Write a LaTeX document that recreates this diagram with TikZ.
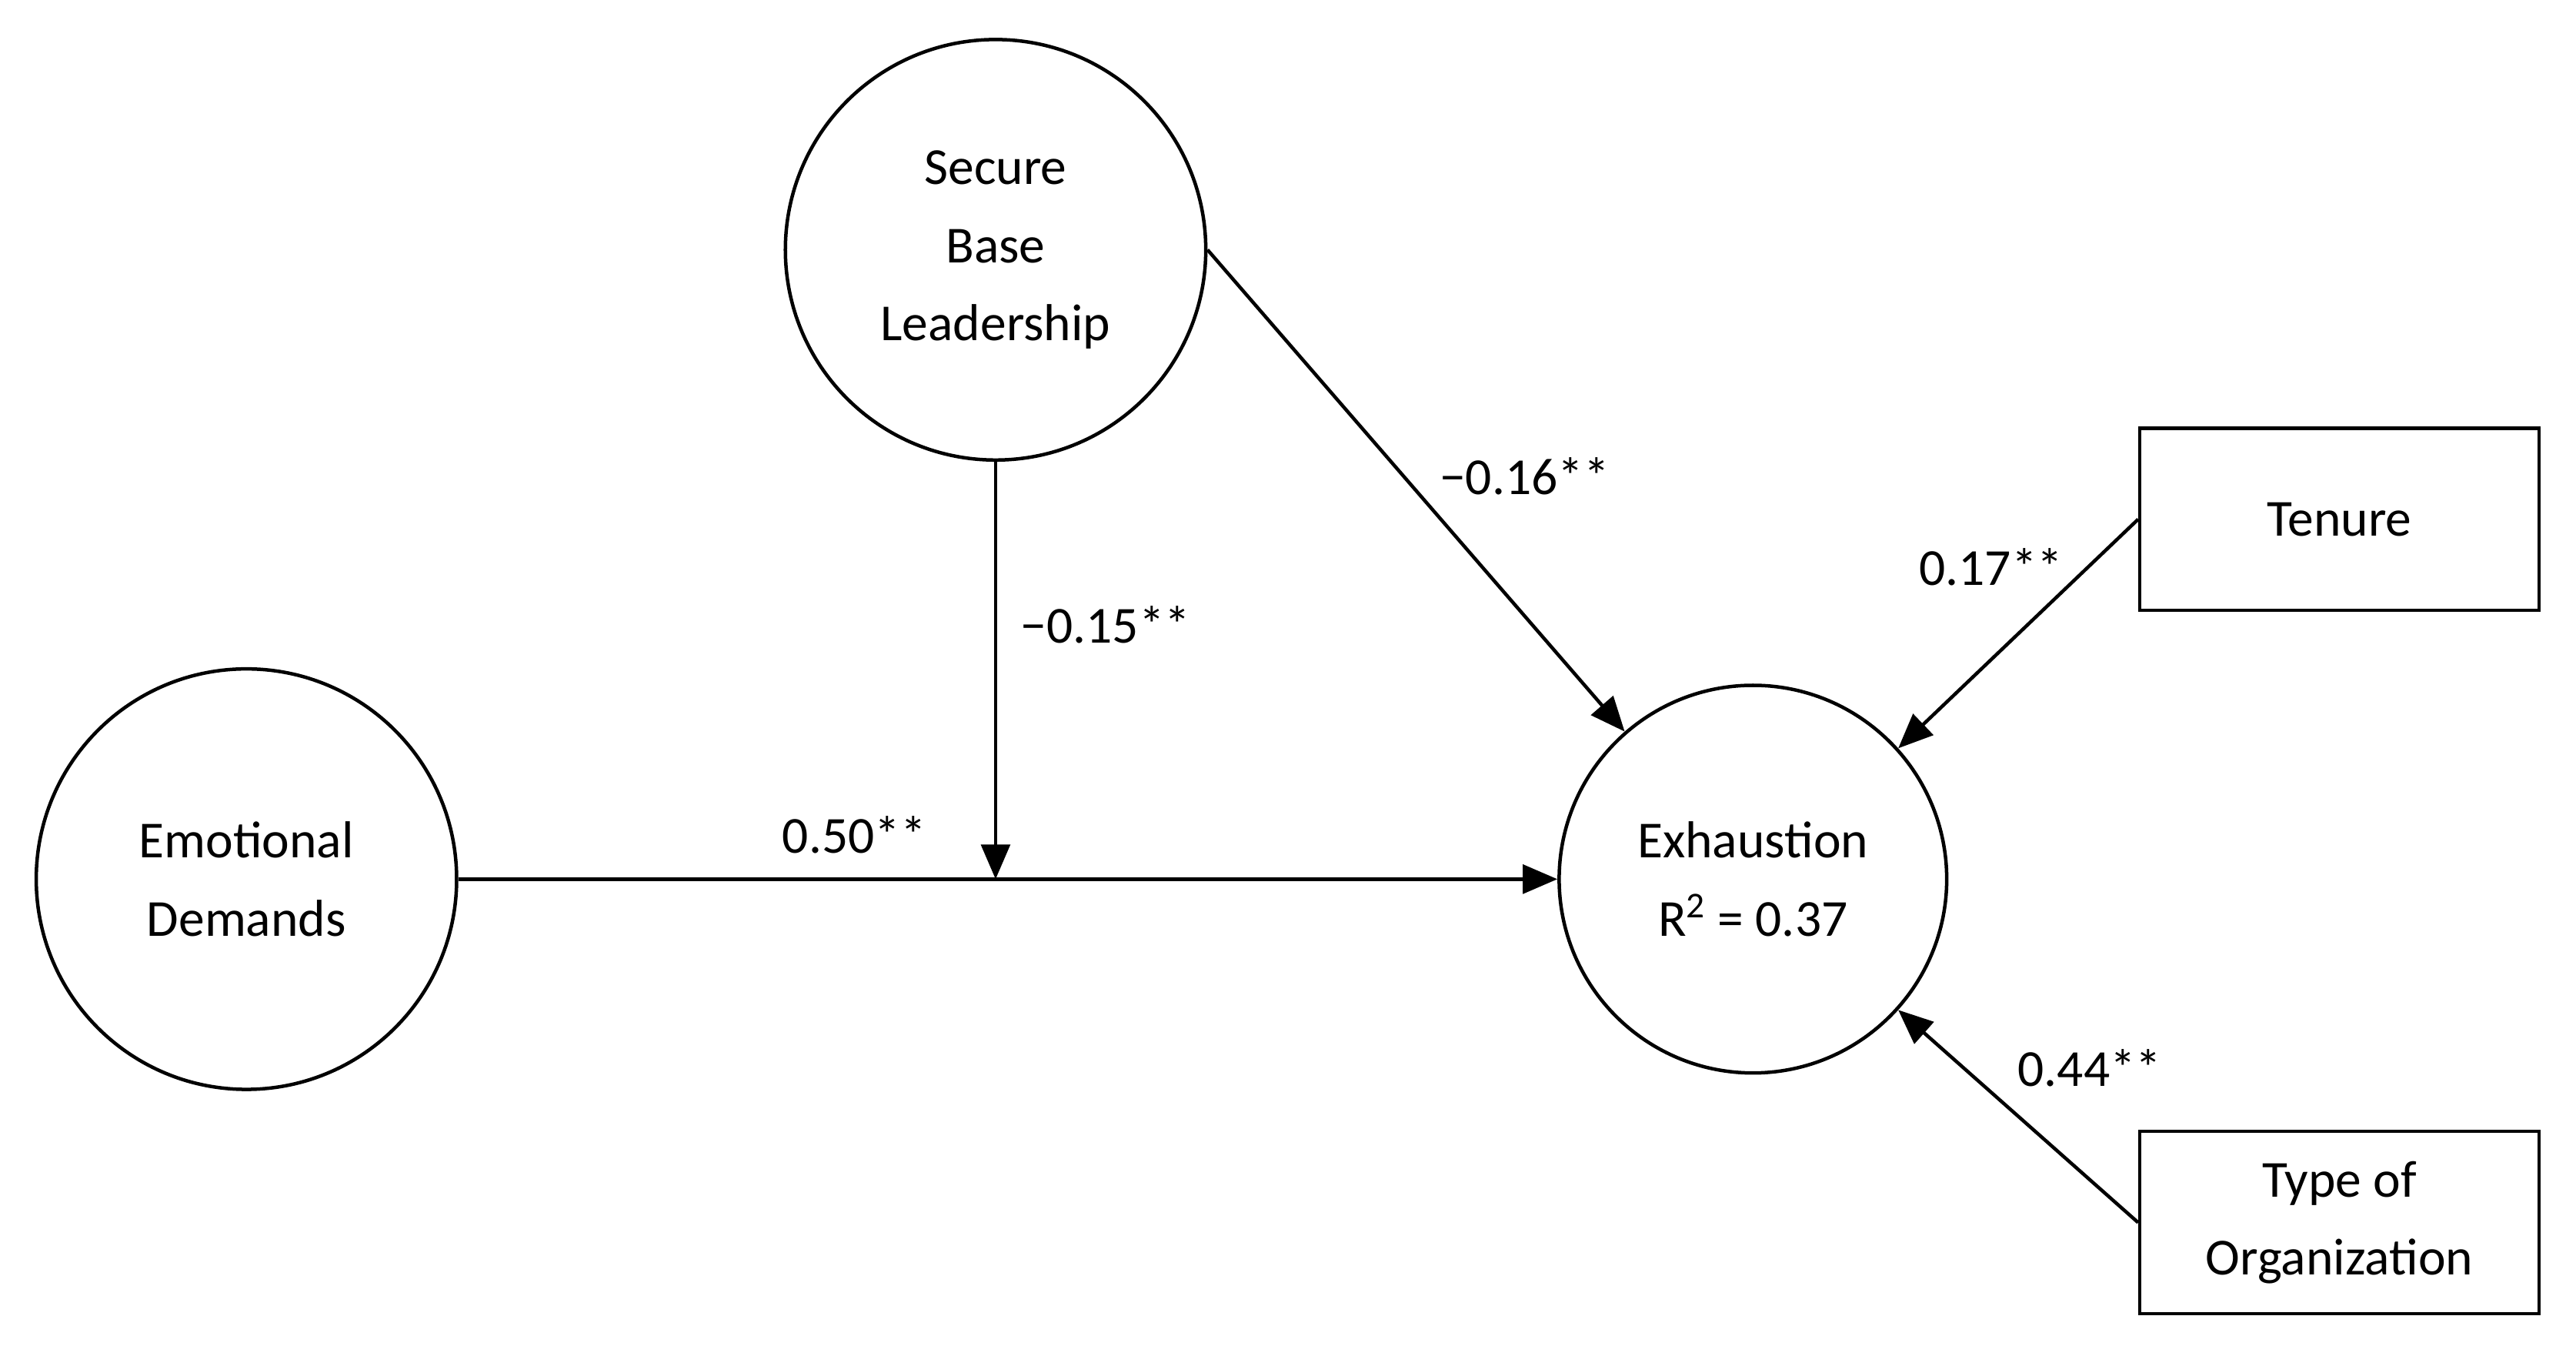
\documentclass[tikz,border=0pt]{standalone}
\usepackage{fontspec}
\setmainfont{Carlito}
\usetikzlibrary{arrows.meta}
\begin{document}
\begin{tikzpicture}[x=0.02cm,y=-0.02cm,
  every node/.style={font=\fontsize{18}{27}\selectfont},
  circ/.style={draw,circle,line width=1.2pt,minimum size=#1*0.04cm,inner sep=0pt,align=center},
  box/.style={draw,line width=1.2pt,minimum width=4.86cm,minimum height=2.22cm,align=center},
  arr/.style={line width=1.2pt,-{Triangle[length=12pt,width=10pt]}},
  lab/.style={inner sep=1pt}]
\useasboundingbox (0,0) rectangle (1568,819);
\node[circ=128] (sbl) at (606,152) {Secure\\Base\\Leadership};
\node[circ=128] (ed) at (150,535) {Emotional\\Demands};
\node[circ=118] (ex) at (1067,535) {Exhaustion\\R\textsuperscript{2} = 0.37};
\node[box] (ten) at (1424,316) {Tenure};
\node[box] (typ) at (1424,744) {Type of\\Organization};
\coordinate (m) at (606,535);
\draw[arr] (ed.east) -- (ex.west);
\draw[arr] (sbl.south) -- (m);
\draw[arr] (sbl.east) -- (ex.131);
\draw[arr] (ten.west) -- (ex.42);
\draw[arr] (typ.west) -- (ex.-42);
\node[lab] (l1) at (928,290) {−0.16**};
\node[lab] (l2) at (673,380) {−0.15**};
\node[lab] (l3) at (520,508) {0.50**};
\node[lab] (l4) at (1212,345) {0.17**};
\node[lab] (l5) at (1272,650) {0.44**};
\end{tikzpicture}
\end{document}
